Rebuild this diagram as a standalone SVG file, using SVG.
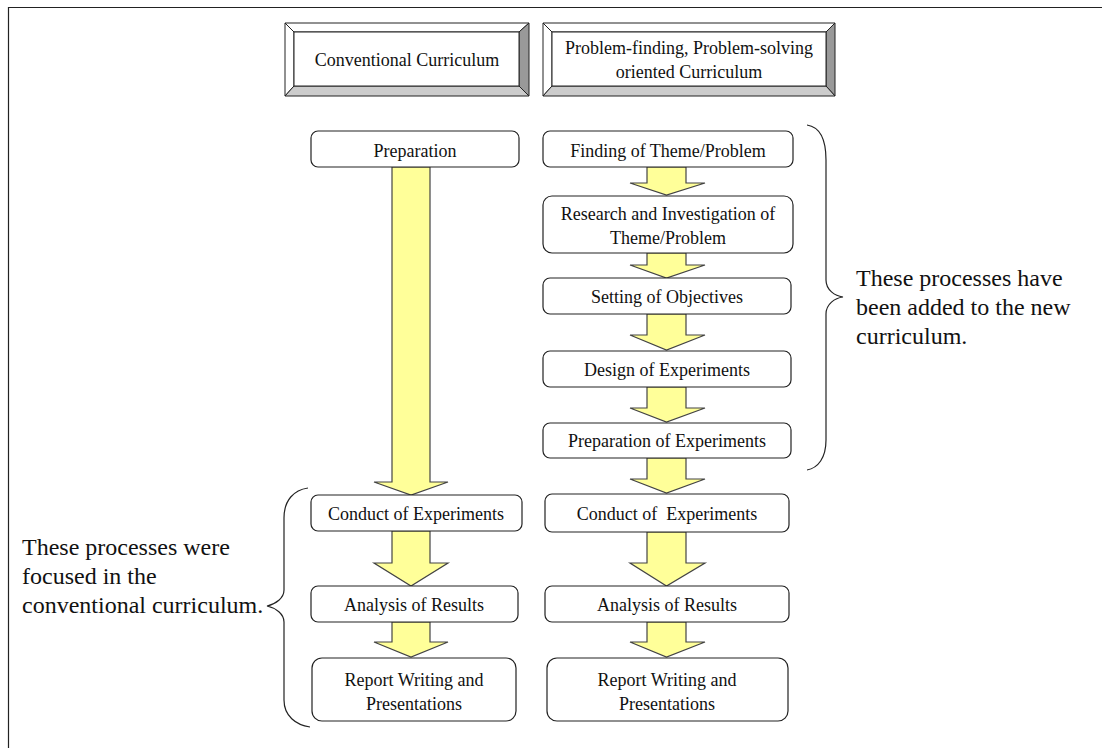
<svg xmlns="http://www.w3.org/2000/svg" width="1102" height="748" viewBox="0 0 1102 748">
<defs>
<style>
text{font-family:"Liberation Serif","Times New Roman",serif;fill:#111;}
.t18{font-size:18px;text-anchor:middle;}
.t24{font-size:24px;}
.box{fill:#fff;stroke:#222;stroke-width:1.2;}
.bev{stroke:#222;stroke-width:1;stroke-linejoin:miter;}
.arr{fill:#ffff99;stroke:#444;stroke-width:1.2;stroke-linejoin:miter;}
.brace{fill:none;stroke:#222;stroke-width:1.2;}
</style>
</defs>
<rect x="0" y="0" width="1102" height="748" fill="#fff"/>
<g id="frame">
<line x1="8" y1="7.5" x2="1102" y2="7.5" stroke="#222" stroke-width="1.2"/>
<line x1="8.5" y1="7" x2="8.5" y2="748" stroke="#222" stroke-width="1.2"/>
</g>

<g id="connectors">
<!-- left column -->
<polygon class="arr" points="392,167 430,167 430,482 448,482 411,495 374,482 392,482"/>
<polygon class="arr" points="392,531 430,531 430,563 448,563 411,586 374,563 392,563"/>
<polygon class="arr" points="392,622 430,622 430,642 448,642 411,657 374,642 392,642"/>
<!-- right column -->
<polygon class="arr" points="647,167 686,167 686,183 705,183 666.5,195 630,183 647,183"/>
<polygon class="arr" points="647,253 686,253 686,265 705,265 666.5,278 630,265 647,265"/>
<polygon class="arr" points="647,314 686,314 686,335 705,335 666.5,350 630,335 647,335"/>
<polygon class="arr" points="647,387 686,387 686,408 705,408 666.5,422 630,408 647,408"/>
<polygon class="arr" points="647,458 686,458 686,479 705,479 666.5,493 630,479 647,479"/>
<polygon class="arr" points="647,532 686,532 686,563 705,563 666.5,586 630,563 647,563"/>
<polygon class="arr" points="647,622 686,622 686,642 705,642 666.5,657 630,642 647,642"/>
<!-- braces -->
<path class="brace" d="M807,125 C820,127 826,140 826,160 L826,280 C826,290 835,296 843,297 C835,298 826,304 826,314 L826,440 C826,458 818,468 807,470"/>
<path class="brace" d="M308,488 C294,490 284,500 284,518 L284,590 C284,598 276,604 267,606 C276,608 284,614 284,622 L284,700 C284,716 296,725 310,727"/>
</g>

<g id="hdr-conventional">
<polygon class="bev" fill="#ffffff" points="285,23 529,23 519,32 294,32"/>
<polygon class="bev" fill="#ffffff" points="285,23 294,32 294,86 285,96"/>
<polygon class="bev" fill="#999999" points="529,23 529,96 519,86 519,32"/>
<polygon class="bev" fill="#cccccc" points="285,96 294,86 519,86 529,96"/>
<rect class="bev" fill="#fff" x="294" y="32" width="225" height="54"/>
<text class="t18" x="407" y="66">Conventional Curriculum</text>
</g>
<g id="hdr-problem">
<polygon class="bev" fill="#ffffff" points="543,23 835,23 826,32 552,32"/>
<polygon class="bev" fill="#ffffff" points="543,23 552,32 552,86 543,96"/>
<polygon class="bev" fill="#999999" points="835,23 835,96 826,86 826,32"/>
<polygon class="bev" fill="#cccccc" points="543,96 552,86 826,86 835,96"/>
<rect class="bev" fill="#fff" x="552" y="32" width="274" height="54"/>
<text class="t18" x="689" y="54">Problem-finding, Problem-solving</text>
<text class="t18" x="689" y="78">oriented Curriculum</text>
</g>

<g id="n-preparation">
<rect class="box" x="311" y="131" width="208" height="36" rx="7"/>
<text class="t18" x="415" y="157">Preparation</text>
</g>
<g id="n-conduct-l">
<rect class="box" x="311" y="495" width="211" height="36" rx="7"/>
<text class="t18" x="416" y="520">Conduct of Experiments</text>
</g>
<g id="n-analysis-l">
<rect class="box" x="311" y="586" width="207" height="36" rx="7"/>
<text class="t18" x="414" y="611">Analysis of Results</text>
</g>
<g id="n-report-l">
<rect class="box" x="312" y="658" width="204" height="63" rx="10"/>
<text class="t18" x="414" y="686">Report Writing and</text>
<text class="t18" x="414" y="710">Presentations</text>
</g>

<g id="n-finding">
<rect class="box" x="543" y="131" width="250" height="36" rx="7"/>
<text class="t18" x="668" y="157">Finding of Theme/Problem</text>
</g>
<g id="n-research">
<rect class="box" x="543" y="196" width="250" height="57" rx="9"/>
<text class="t18" x="668" y="220">Research and Investigation of</text>
<text class="t18" x="668" y="244">Theme/Problem</text>
</g>
<g id="n-setting">
<rect class="box" x="543" y="278" width="248" height="36" rx="7"/>
<text class="t18" x="667" y="303">Setting of Objectives</text>
</g>
<g id="n-design">
<rect class="box" x="543" y="351" width="248" height="36" rx="7"/>
<text class="t18" x="667" y="376">Design of Experiments</text>
</g>
<g id="n-prepexp">
<rect class="box" x="543" y="423" width="248" height="35" rx="7"/>
<text class="t18" x="667" y="447">Preparation of Experiments</text>
</g>
<g id="n-conduct-r">
<rect class="box" x="545" y="494" width="244" height="38" rx="7"/>
<text class="t18" x="667" y="520" style="white-space:pre">Conduct of  Experiments</text>
</g>
<g id="n-analysis-r">
<rect class="box" x="545" y="586" width="244" height="36" rx="7"/>
<text class="t18" x="667" y="611">Analysis of Results</text>
</g>
<g id="n-report-r">
<rect class="box" x="547" y="658" width="241" height="63" rx="10"/>
<text class="t18" x="667" y="686">Report Writing and</text>
<text class="t18" x="667" y="710">Presentations</text>
</g>

<g id="note-left">
<text class="t24" x="22" y="555">These processes were</text>
<text class="t24" x="22" y="584">focused in the</text>
<text class="t24" x="22" y="613">conventional curriculum.</text>
</g>
<g id="note-right">
<text class="t24" x="856" y="286">These processes have</text>
<text class="t24" x="856" y="315">been added to the new</text>
<text class="t24" x="856" y="344">curriculum.</text>
</g>
</svg>
